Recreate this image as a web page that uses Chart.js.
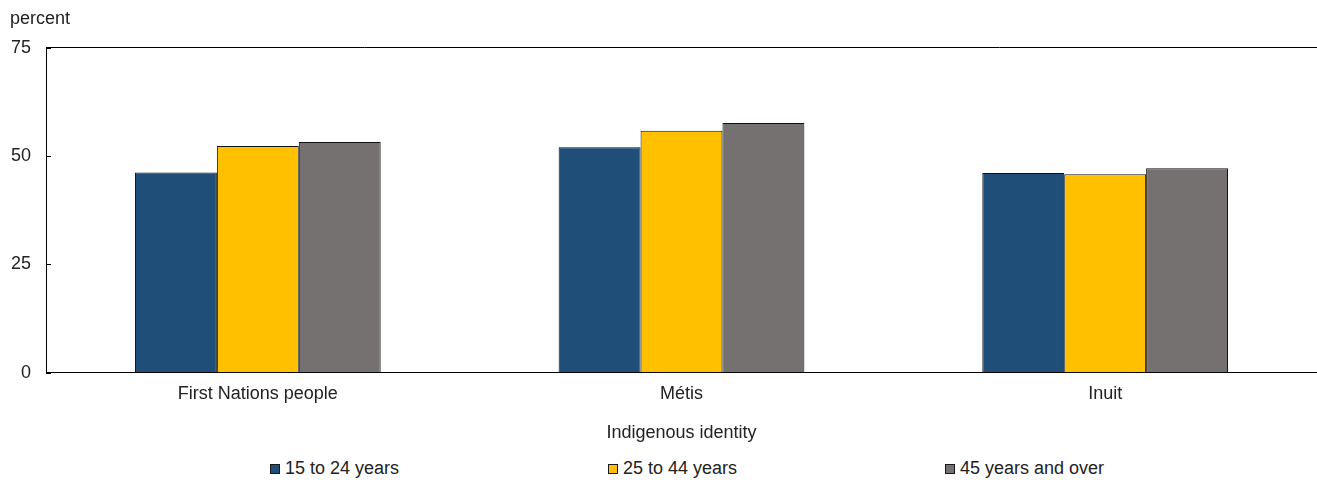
<!DOCTYPE html>
<html>
<head>
<meta charset="utf-8">
<title>Indigenous identity by age group</title>
<script src="https://cdn.jsdelivr.net/npm/chart.js@4"></script>
<style>
  html, body { margin: 0; padding: 0; background: #fff; }
  #wrap { position: relative; width: 1317px; height: 483px; }
  #plot { position: absolute; left: 0; top: 0; width: 1317px; height: 446px; }
  .legend-item {
    position: absolute; top: 457px; height: 22px; line-height: 22px;
    font-family: "Liberation Sans", Arial, sans-serif; font-size: 18px; color: #222;
    white-space: nowrap;
  }
  .legend-item i {
    display: inline-block; width: 8px; height: 8px; margin-right: 5px;
    border: 1px solid #1a1a1a; vertical-align: 0px;
  }
</style>
</head>
<body>
<div id="wrap">
  <div id="plot"><canvas id="chart"></canvas></div>
  <div id="legend"></div>
</div>
<script>
  // ── Data ────────────────────────────────────────────────────────────────
  var categories  = ['First Nations people', 'Métis', 'Inuit'];
  var seriesNames = ['15 to 24 years', '25 to 44 years', '45 years and over'];
  var age15to24   = [46.2, 52.0, 46.1];
  var age25to44   = [52.3, 55.8, 45.8];
  var age45plus   = [53.2, 57.6, 47.2];
  var yTicks      = [0, 25, 50, 75];

  var COLORS = ['#1f4e79', '#ffc000', '#767171'];
  var FONT = '"Liberation Sans", Arial, sans-serif';
  var TEXT = '#222222';

  // small inward tick marks on the y axis
  var innerTicks = {
    id: 'innerTicks',
    afterDraw: function (chart) {
      var y = chart.scales.y, ctx = chart.ctx, left = chart.chartArea.left;
      ctx.save();
      ctx.strokeStyle = '#000';
      ctx.lineWidth = 1;
      yTicks.forEach(function (v) {
        var py = Math.round(y.getPixelForValue(v)) + 0.5;
        ctx.beginPath();
        ctx.moveTo(left, py);
        ctx.lineTo(left + 5, py);
        ctx.stroke();
      });
      ctx.restore();
    }
  };

  function bar(i, data) {
    return {
      label: seriesNames[i], data: data, backgroundColor: COLORS[i],
      borderColor: '#111111', borderWidth: 1,
      barPercentage: 1.0, categoryPercentage: 0.58
    };
  }

  new Chart(document.getElementById('chart').getContext('2d'), {
    type: 'bar',
    data: {
      labels: categories,
      datasets: [bar(0, age15to24), bar(1, age25to44), bar(2, age45plus)]
    },
    plugins: [innerTicks],
    options: {
      responsive: true,
      maintainAspectRatio: false,
      animation: false,
      layout: { padding: { left: 10, right: -2, top: 8, bottom: 2 } },
      plugins: {
        title: {
          display: true, text: 'percent', align: 'start', color: TEXT,
          font: { family: FONT, size: 18, weight: 'normal' },
          padding: { top: 0, bottom: 18 }
        },
        legend: { display: false },
        tooltip: { enabled: false }
      },
      scales: {
        x: {
          grid: { display: false, drawTicks: false },
          border: { display: true, color: '#000', width: 1 },
          ticks: { color: TEXT, padding: 10, font: { family: FONT, size: 18 } },
          title: {
            display: true, text: 'Indigenous identity', color: TEXT,
            font: { family: FONT, size: 18 }, padding: { top: 8, bottom: 0 }
          }
        },
        y: {
          min: 0, max: 75,
          afterBuildTicks: function (axis) {
            axis.ticks = yTicks.map(function (v) { return { value: v }; });
          },
          afterFit: function (axis) { axis.width = 36; },
          grid: {
            drawTicks: false,
            color: function (c) { return c.tick && c.tick.value === 75 ? '#000' : 'rgba(0,0,0,0)'; }
          },
          border: { display: true, color: '#000', width: 1 },
          ticks: { color: TEXT, padding: 15, font: { family: FONT, size: 18 } }
        }
      }
    }
  });

  // HTML legend below the plot
  var legendLeft = [270, 608, 945];
  var legendEl = document.getElementById('legend');
  seriesNames.forEach(function (name, i) {
    var d = document.createElement('div');
    d.className = 'legend-item';
    d.style.left = legendLeft[i] + 'px';
    d.innerHTML = '<i style="background:' + COLORS[i] + '"></i>' + name;
    legendEl.appendChild(d);
  });
</script>
</body>
</html>
